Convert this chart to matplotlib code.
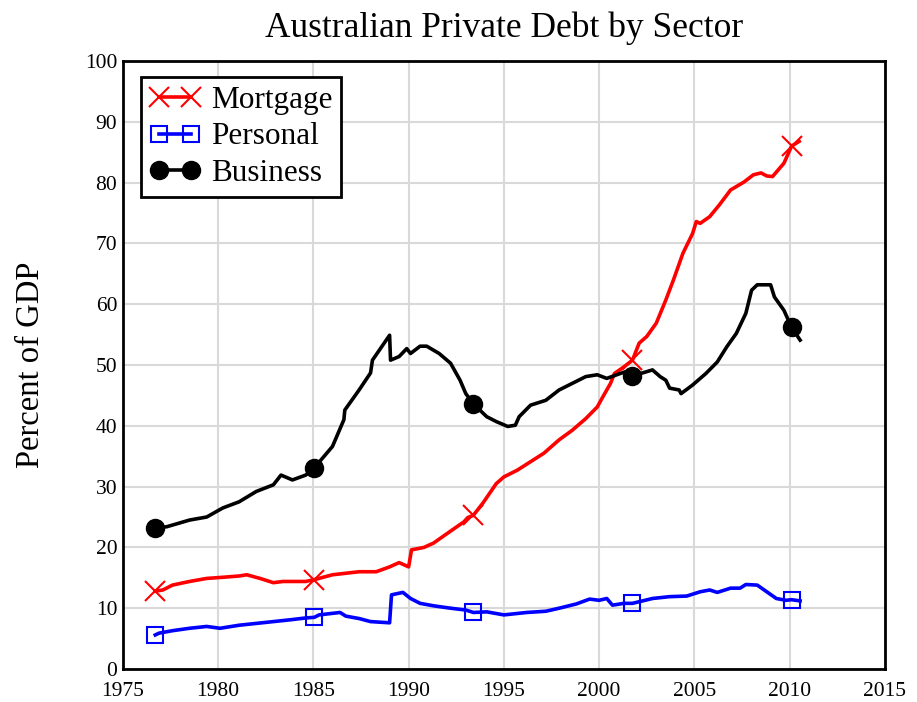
import numpy as np
import matplotlib
matplotlib.use("Agg")
import matplotlib.pyplot as plt

plt.rcParams['font.family'] = ['Liberation Serif', 'DejaVu Serif']

# ---- data (percent of GDP) ----
business_x = [1976.7, 1977.3, 1978.5, 1979.4, 1980.25, 1981.1, 1982.0, 1982.9, 1983.3, 1983.9,
              1984.6, 1985.05, 1986.0, 1986.6, 1986.65, 1987.4, 1988.0, 1988.1, 1989.0, 1989.05,
              1989.5, 1989.9, 1990.1, 1990.6, 1990.95, 1991.6, 1992.2, 1992.7, 1993.0, 1993.4,
              1994.1, 1994.6, 1995.2, 1995.6, 1995.8, 1996.4, 1997.2, 1997.9, 1998.6, 1999.3,
              1999.9, 2000.4, 2001.1, 2001.4, 2001.75, 2002.8, 2003.2, 2003.5, 2003.7, 2004.2,
              2004.3, 2004.9, 2005.6, 2006.2, 2006.7, 2007.2, 2007.7, 2008.0, 2008.3, 2009.0,
              2009.2, 2009.7, 2010.0, 2010.1, 2010.55]
business_y = [23.2, 23.4, 24.5, 25.0, 26.5, 27.5, 29.2, 30.3, 31.9, 31.1,
              31.9, 33.1, 36.6, 41.0, 42.6, 45.9, 48.7, 50.8, 54.9, 50.8,
              51.4, 52.7, 51.9, 53.1, 53.1, 51.9, 50.3, 47.5, 45.3, 43.6,
              41.5, 40.7, 39.9, 40.1, 41.5, 43.4, 44.2, 45.9, 47.0, 48.1,
              48.4, 47.8, 48.6, 48.9, 48.2, 49.2, 48.1, 47.5, 46.2, 45.9,
              45.3, 46.7, 48.6, 50.5, 53.0, 55.2, 58.5, 62.3, 63.2, 63.2,
              61.2, 59.0, 56.9, 56.2, 54.1]

mortgage_x = [1976.7, 1977.1, 1977.6, 1978.5, 1979.4, 1980.3, 1981.1, 1981.5, 1982.2, 1982.9,
              1983.4, 1984.6, 1985.05, 1986.0, 1987.4, 1988.3, 1989.0, 1989.5, 1990.0, 1990.15,
              1990.8, 1991.3, 1991.8, 1992.3, 1992.9, 1993.1, 1993.4, 1993.9, 1994.6, 1995.0,
              1995.7, 1996.4, 1997.1, 1997.9, 1998.6, 1999.3, 1999.9, 2000.2, 2000.6, 2000.8,
              2001.3, 2001.75, 2002.1, 2002.5, 2003.0, 2003.5, 2003.9, 2004.4, 2004.9, 2005.1,
              2005.3, 2005.8, 2006.3, 2006.9, 2007.6, 2008.1, 2008.5, 2008.8, 2009.1, 2009.7,
              2010.1, 2010.5]
mortgage_y = [12.8, 13.0, 13.8, 14.4, 14.9, 15.1, 15.3, 15.5, 14.9, 14.2,
              14.4, 14.4, 14.7, 15.5, 16.0, 16.0, 16.8, 17.5, 16.8, 19.6,
              20.0, 20.7, 21.8, 22.9, 24.2, 24.9, 25.3, 27.3, 30.5, 31.6,
              32.7, 34.1, 35.5, 37.7, 39.3, 41.2, 43.1, 44.8, 47.0, 48.6,
              49.7, 50.8, 53.6, 54.7, 56.9, 60.7, 64.0, 68.4, 71.6, 73.6,
              73.3, 74.4, 76.3, 78.8, 80.1, 81.3, 81.6, 81.1, 81.0, 83.2,
              86.0, 86.8]

personal_x = [1976.7, 1976.9, 1977.6, 1978.5, 1979.4, 1980.1, 1981.1, 1982.0, 1982.9, 1983.8,
              1984.6, 1985.05, 1985.3, 1986.4, 1986.7, 1987.4, 1988.0, 1989.0, 1989.1, 1989.7,
              1990.1, 1990.6, 1991.3, 1992.2, 1993.0, 1993.4, 1994.1, 1995.0, 1996.2, 1997.2,
              1997.9, 1998.8, 1999.5, 2000.0, 2000.4, 2000.7, 2001.3, 2001.75, 2002.8, 2003.7,
              2004.6, 2005.3, 2005.8, 2006.2, 2006.9, 2007.4, 2007.7, 2008.3, 2008.8, 2009.3,
              2009.8, 2010.1, 2010.55]
personal_y = [5.6, 5.9, 6.3, 6.7, 7.0, 6.7, 7.2, 7.5, 7.8, 8.1,
              8.4, 8.5, 8.9, 9.3, 8.7, 8.3, 7.8, 7.6, 12.2, 12.6,
              11.6, 10.8, 10.4, 10.0, 9.7, 9.3, 9.4, 8.9, 9.3, 9.5,
              10.0, 10.7, 11.5, 11.3, 11.6, 10.5, 10.8, 10.8, 11.6, 11.9,
              12.0, 12.7, 13.0, 12.6, 13.3, 13.3, 13.9, 13.8, 12.7, 11.6,
              11.3, 11.4, 11.2]

marker_years = [1976.7, 1985.05, 1993.4, 2001.75, 2010.1]

x_ticks = list(range(1975, 2016, 5))
y_ticks = list(range(0, 101, 10))

fig = plt.figure(figsize=(9.17, 7.02), dpi=100)
ax = fig.add_axes([0.134, 0.047, 0.831, 0.866])


def mark_idx(xs):
    xs = np.asarray(xs)
    return [int(np.argmin(np.abs(xs - m))) for m in marker_years]


ax.plot(mortgage_x, mortgage_y, color='red', lw=2.6, marker='x', ms=14, mew=1.5,
        markevery=mark_idx(mortgage_x), label='Mortgage', zorder=3)
ax.plot(personal_x, personal_y, color='blue', lw=2.6, marker='s', ms=12, mew=1.5,
        mfc='none', mec='blue', markevery=mark_idx(personal_x), label='Personal', zorder=3)
ax.plot(business_x, business_y, color='black', lw=2.6, marker='o', ms=13,
        markevery=mark_idx(business_x), label='Business', zorder=3)

ax.set_xlim(1975, 2015)
ax.set_ylim(0, 100)
ax.set_xticks(x_ticks)
ax.set_yticks(y_ticks)
ax.tick_params(labelsize=15.5, length=0)
ax.tick_params(axis='x', pad=9)
ax.tick_params(axis='y', pad=4)
ax.grid(True, color='#d9d9d9', lw=1.5)
ax.set_axisbelow(True)
for s in ax.spines.values():
    s.set_linewidth(2)
    s.set_color('black')

ax.set_ylabel('Percent of GDP', fontsize=23.5, labelpad=28)
ax.set_title('Australian Private Debt by Sector', fontsize=25.5, pad=17)

leg = ax.legend(loc='upper left', bbox_to_anchor=(0.024, 0.974), numpoints=2,
                fontsize=22.5, frameon=True, fancybox=False, framealpha=1,
                edgecolor='black', handlelength=1.6, handletextpad=0.35,
                borderpad=0.28, labelspacing=0.25, borderaxespad=0)
leg.get_frame().set_linewidth(2)

fig.savefig('out.png', dpi=100)
